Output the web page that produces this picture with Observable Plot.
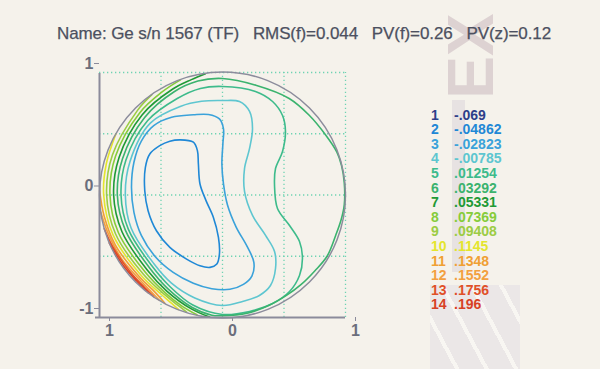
<!DOCTYPE html>
<html>
<head>
<meta charset="utf-8">
<script src="https://cdn.jsdelivr.net/npm/d3@7"></script>
<script src="https://cdn.jsdelivr.net/npm/@observablehq/plot@0.6"></script>
<style>
  html, body { margin: 0; padding: 0; background: #f5f2eb; }
  #wrap { position: relative; width: 600px; height: 369px; overflow: hidden; background: #f5f2eb; font-family: "Liberation Sans", Arial, sans-serif; }
  #title { position: absolute; left: 57px; top: 25px; font-size: 17px; line-height: 1; color: #4c5060; white-space: pre; letter-spacing: -0.1px; z-index: 3; -webkit-text-stroke: 0.25px #4c5060; }
  #legend { position: absolute; left: 431px; top: 107.7px; font-weight: bold; font-size: 14px; line-height: 14.6px; z-index: 3; }
  #legend .row { position: relative; height: 14.6px; white-space: nowrap; }
  #legend .num { position: absolute; left: 0; }
  #legend .val { position: absolute; left: 23px; }
  .wm { position: absolute; z-index: 1; }
  #chart { position: absolute; left: 0; top: 0; z-index: 2; }
  #chart svg { background: transparent !important; }
  #chart svg text { font-family: "Liberation Sans", Arial, sans-serif; }
</style>
</head>
<body>
<div id="wrap">
  <div class="wm" style="left:471px; top:56px; transform: translate(-50%,-50%) rotate(-90deg); font: bold 64px 'Liberation Sans', Arial, sans-serif; line-height:1; color:#ddd2d2;">EX</div>
  <div class="wm" style="left:452px; top:100px; width:13px; height:172px; background:#e7e2e2;"></div>
  <div class="wm" style="left:430px; top:285px; width:90px; height:84px; background: repeating-linear-gradient(62deg, #ebe7e7 0px, #ebe7e7 22px, #f8f6f2 22px, #f8f6f2 26px);"></div>
  <div id="title"></div>
  <div id="chart"></div>
  <div id="legend"></div>
</div>
<script>
// ---- text ----
const titleText = "Name: Ge s/n 1567 (TF)   RMS(f)=0.044   PV(f)=0.26   PV(z)=0.12";

// ---- legend levels ----
const levelIds = [1, 2, 3, 4, 5, 6, 7, 8, 9, 10, 11, 12, 13, 14];
const levelValues = ["-.069", "-.04862", "-.02823", "-.00785", ".01254", ".03292", ".05331",
                     ".07369", ".09408", ".1145", ".1348", ".1552", ".1756", ".196"];
const levelColors = ["#2e3f8a", "#1f88d6", "#3aa2da", "#5ec6d0", "#3dbb8b", "#3bb36e", "#1f9a36",
                     "#86cc3a", "#9ccc44", "#e4e52e", "#f0a034", "#f3a040", "#e05028", "#d84024"];

// ---- axes ----
const xTicks = [-1, 0, 1];
const xTickLabels = ["1", "0", "1"];
const yTicks = [-1, 0, 1];
const yTickLabels = ["-1", "0", "1"];
const gridX = [-0.5, 0, 0.5, 1];
const gridY = [-0.5, 0, 0.5, 1];
const aperture = [{x: 0, y: 0}];

// ---- contour traces, [x, y] in normalized aperture units ----
const contour2 = [[-0.346,0.450],[-0.237,0.431],[-0.204,0.362],[-0.196,0.253],[-0.183,0.090],[-0.134,-0.046],
  [-0.074,-0.183],[-0.033,-0.346],[-0.025,-0.482],[-0.046,-0.564],[-0.101,-0.591],[-0.183,-0.578],
  [-0.292,-0.523],[-0.428,-0.428],[-0.537,-0.292],[-0.605,-0.128],[-0.632,0.035],[-0.627,0.226],
  [-0.591,0.335],[-0.510,0.403],[-0.428,0.439]];
const contour3 = [[-0.025,0.621],[0.008,0.540],[0.003,0.417],[-0.005,0.253],[0.008,0.090],[0.040,-0.080],
  [0.110,-0.260],[0.200,-0.420],[0.255,-0.550],[0.240,-0.660],[0.170,-0.730],[0.060,-0.770],
  [-0.087,-0.765],[-0.237,-0.720],[-0.401,-0.632],[-0.550,-0.500],[-0.660,-0.330],[-0.720,-0.142],
  [-0.740,0.063],[-0.720,0.267],[-0.660,0.440],[-0.559,0.567],[-0.414,0.635],[-0.237,0.655],[-0.114,0.657]];
const contour4 = [[0,0.771],[0.138,0.763],[0.220,0.682],[0.244,0.543],[0.220,0.380],[0.179,0.216],
  [0.179,0.029],[0.244,-0.167],[0.350,-0.330],[0.423,-0.461],[0.431,-0.600],[0.390,-0.739],
  [0.300,-0.820],[0.163,-0.869],[0,-0.902],[-0.225,-0.840],[-0.415,-0.719],[-0.559,-0.559],
  [-0.743,-0.270],[-0.790,0],[-0.752,0.274],[-0.587,0.587],[-0.338,0.725],[-0.170,0.765]];
const contour5 = [[0,0.886],[0.268,0.845],[0.407,0.763],[0.488,0.649],[0.512,0.518],[0.488,0.355],
  [0.431,0.216],[0.423,0.078],[0.447,-0.110],[0.545,-0.249],[0.626,-0.380],[0.650,-0.518],
  [0.626,-0.657],[0.545,-0.788],[0.407,-0.886],[0.220,-0.951],[0,-0.975],[-0.241,-0.898],
  [-0.430,-0.745],[-0.576,-0.576],[-0.766,-0.279],[-0.825,0],[-0.785,0.286],[-0.608,0.608],
  [-0.368,0.788],[-0.180,0.870]];
const contour6 = [[0,0.951],[0.271,0.896],[0.542,0.788],[0.705,0.651],[0.840,0.488],[0.930,0.350],
  [0.968,0.240],[0.990,0.100],[0.990,-0.080],[0.965,-0.200],[0.920,-0.330],[0.850,-0.500],
  [0.750,-0.620],[0.640,-0.730],[0.520,-0.820],[0.380,-0.900],[0.200,-0.965],[0,-0.985],
  [-0.086,-0.981],[-0.246,-0.918],[-0.443,-0.766],[-0.594,-0.594],[-0.790,-0.287],[-0.855,0],
  [-0.813,0.296],[-0.633,0.633],[-0.393,0.843],[-0.200,0.930]];
const arc7 = [[-0.139,0.990],[-0.253,0.942],[-0.404,0.865],[-0.654,0.654],[-0.841,0.306],[-0.885,0],
  [-0.818,-0.298],[-0.612,-0.612],[-0.453,-0.784],[-0.250,-0.932],[-0.105,-0.995]];
const arc8 = [[-0.342,0.940],[-0.488,0.844],[-0.672,0.672],[-0.870,0.316],[-0.915,0],[-0.846,-0.308],
  [-0.629,-0.629],[-0.463,-0.801],[-0.330,-0.907],[-0.208,-0.978]];
const arc9 = [[-0.574,0.819],[-0.691,0.691],[-0.895,0.326],[-0.942,0],[-0.870,-0.316],[-0.645,-0.645],
  [-0.470,-0.814],[-0.364,-0.899],[-0.292,-0.956]];
const arc10 = [[-0.866,0.500],[-0.945,0.253],[-0.966,0],[-0.891,-0.324],[-0.659,-0.659],[-0.504,-0.806],
  [-0.413,-0.885],[-0.358,-0.934]];
const arc11 = [[-0.999,0.035],[-0.963,-0.170],[-0.872,-0.407],[-0.672,-0.672],[-0.553,-0.789],[-0.469,-0.883]];
const arc12 = [[-0.990,-0.139],[-0.934,-0.303],[-0.824,-0.515],[-0.682,-0.682],[-0.588,-0.781],[-0.515,-0.857]];
const arc13 = [[-0.961,-0.276],[-0.895,-0.418],[-0.750,-0.629],[-0.633,-0.755],[-0.559,-0.829]];
const arc14 = [[-0.921,-0.391],[-0.812,-0.569],[-0.700,-0.700],[-0.602,-0.799]];

const closedContours = [[2, contour2], [3, contour3], [4, contour4], [5, contour5], [6, contour6]];
const openContours = [[7, arc7], [8, arc8], [9, arc9], [10, arc10], [11, arc11], [12, arc12], [13, arc13], [14, arc14]];

const toRows = (list) => list.flatMap(([level, pts]) => pts.map(([x, y]) => ({x, y, level})));
const closedRows = toRows(closedContours);
const openRows = toRows(openContours);

document.getElementById("title").textContent = titleText;

const legend = document.getElementById("legend");
levelIds.forEach((id, i) => {
  const row = document.createElement("div");
  row.className = "row";
  row.style.color = levelColors[i];
  row.innerHTML = `<span class="num">${id}</span><span class="val">${levelValues[i]}</span>`;
  legend.appendChild(row);
});

const gridStyle = {stroke: "#6fd3b3", strokeWidth: 1.3, strokeDasharray: "1.3,2.7"};
const axisColor = "#8b8b9b";

const chart = Plot.plot({
  width: 600,
  height: 369,
  marginLeft: 99,
  marginRight: 255,
  marginTop: 72,
  marginBottom: 52,
  style: {background: "transparent", fontFamily: "Liberation Sans, Arial, sans-serif"},
  x: {domain: [-1, 1]},
  y: {domain: [-1, 1]},
  color: {domain: levelIds, range: levelColors},
  marks: [
    Plot.ruleX(gridX, {...gridStyle, y1: -1, y2: 1}),
    Plot.ruleY(gridY, {...gridStyle, x1: -1, x2: 1}),
    Plot.line(closedRows, {x: "x", y: "y", z: "level", stroke: "level", strokeWidth: 1.6, curve: "catmull-rom-closed"}),
    Plot.line(openRows, {x: "x", y: "y", z: "level", stroke: "level", strokeWidth: 1.6, curve: "catmull-rom"}),
    Plot.dot(aperture, {x: "x", y: "y", r: 123, stroke: "#8c8c9c", strokeWidth: 1.5, fill: "none"}),
    Plot.ruleX([-1], {stroke: axisColor, strokeWidth: 2, y1: -1, y2: 1, insetBottom: -1}),
    Plot.ruleY([-1], {stroke: axisColor, strokeWidth: 2, x1: -1, x2: 1, insetLeft: -4}),
    Plot.axisX({ticks: xTicks, tickFormat: d => xTickLabels[xTicks.indexOf(d)], tickSize: 4, tickPadding: 3,
                dx: 10, fontSize: 16, fontWeight: "bold", color: "#6b6e7c", stroke: axisColor, label: null}),
    Plot.axisY({ticks: yTicks, tickFormat: d => yTickLabels[yTicks.indexOf(d)], tickSize: 5, tickPadding: 1,
                dy: -9, fontSize: 16, fontWeight: "bold", color: "#6b6e7c", stroke: axisColor, label: null})
  ]
});
document.getElementById("chart").appendChild(chart);
</script>
</body>
</html>
